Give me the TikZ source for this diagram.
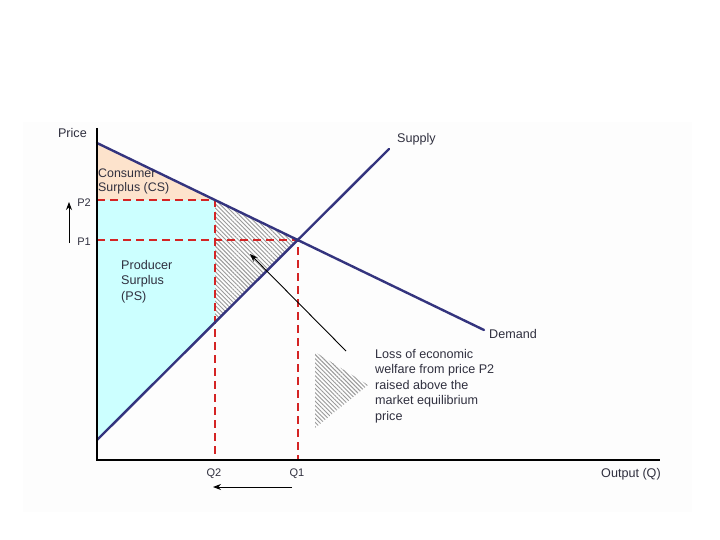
\documentclass[tikz,border=0pt]{standalone}
\usepackage{fontspec}
\setmainfont{Liberation Sans}
\usetikzlibrary{patterns.meta,arrows.meta}
\definecolor{navy}{HTML}{34347E}
\definecolor{dashred}{HTML}{D42424}
\definecolor{peach}{HTML}{FDE3CC}
\definecolor{cyanfill}{HTML}{CCFFFF}
\definecolor{txt}{HTML}{30303F}
\definecolor{bgc}{HTML}{FDFDFD}
\begin{document}
\begin{tikzpicture}[x=1pt,y=-1pt,
  lbl/.style={text=txt, font=\fontsize{12.6}{15.5}\selectfont, inner sep=0pt, align=left},
  small/.style={font=\fontsize{11}{13}\selectfont},
  curve/.style={draw=navy, line width=2.4pt, line cap=round},
  guide/.style={draw=dashred, line width=2.2pt, dash pattern=on 8pt off 5pt},
  axis/.style={draw=black, line width=2pt},
  hatch/.style={pattern={Lines[angle=-45,distance=3pt,line width=0.9pt]}, pattern color=gray!80},
  pointer/.style={draw=black, line width=0.9pt, -{Stealth[length=8pt,width=6pt]}}]
\useasboundingbox (0,0) rectangle (720,540);
\fill[bgc] (23,122) rectangle (692,512);
% key points
\coordinate (D0) at (97,143);
\coordinate (D1) at (484,330);
\coordinate (S0) at (97,440);
\coordinate (S1) at (389,149);
\coordinate (E) at (298,240);
\coordinate (A) at (215,200);
\coordinate (B) at (215,323);
\coordinate (YP2) at (97,200);
\coordinate (YP1) at (97,240);
\coordinate (XQ2) at (215,460);
\coordinate (XQ1) at (298,460);
\coordinate (Ytop) at (97,128);
\coordinate (Xend) at (660,460);
\coordinate (Org) at (97,460);
% areas
\fill[peach] (D0) -- (A) -- (YP2) -- cycle;
\fill[cyanfill] (YP2) -- (A) -- (B) -- (S0) -- cycle;
\path[hatch] (A) -- (E) -- (B) -- cycle;
\path[hatch] (315,352) -- (368,385) -- (315,428) -- cycle;
% guides
\draw[guide] (YP2) -- (A) -- (XQ2);
\draw[guide] (YP1) -- (E) -- (XQ1);
% curves
\draw[curve] (D0) -- (D1);
\draw[curve] (S0) -- (S1);
% axes
\draw[axis] (Ytop) -- (Org) -- (Xend);
% labels
\node[lbl, anchor=east] (price) at (87,133) {Price};
\node[lbl, anchor=west] (supply) at (397,139) {Supply};
\node[lbl, anchor=west] (demand) at (489,334) {Demand};
\node[lbl, anchor=west] (output) at (601,474) {Output (Q)};
\node[lbl, small] (q2) at (214,474) {Q2};
\node[lbl, small] (q1) at (297,474) {Q1};
\node[lbl, small] (p2) at (84,203) {P2};
\node[lbl, small] (p1) at (84,242) {P1};
\node[lbl, anchor=north west, font=\fontsize{12.4}{14}\selectfont] (cs) at (98,169) {Consumer\\Surplus (CS)};
\node[lbl, anchor=north west] (ps) at (121,260) {Producer\\Surplus\\(PS)};
\node[lbl, anchor=north west] (loss) at (375,349) {Loss of economic\\welfare from price P2\\raised above the\\market equilibrium\\price};
% pointers
\coordinate (ptrS) at (346,351);
\coordinate (ptrE) at (250,254);
\draw[pointer] (ptrS) -- (ptrE);
\coordinate (upS) at (69,243);
\coordinate (upE) at (69,202);
\draw[pointer] (upS) -- (upE);
\coordinate (lfS) at (292,487);
\coordinate (lfE) at (213,487);
\draw[pointer] (lfS) -- (lfE);
\end{tikzpicture}
\end{document}
